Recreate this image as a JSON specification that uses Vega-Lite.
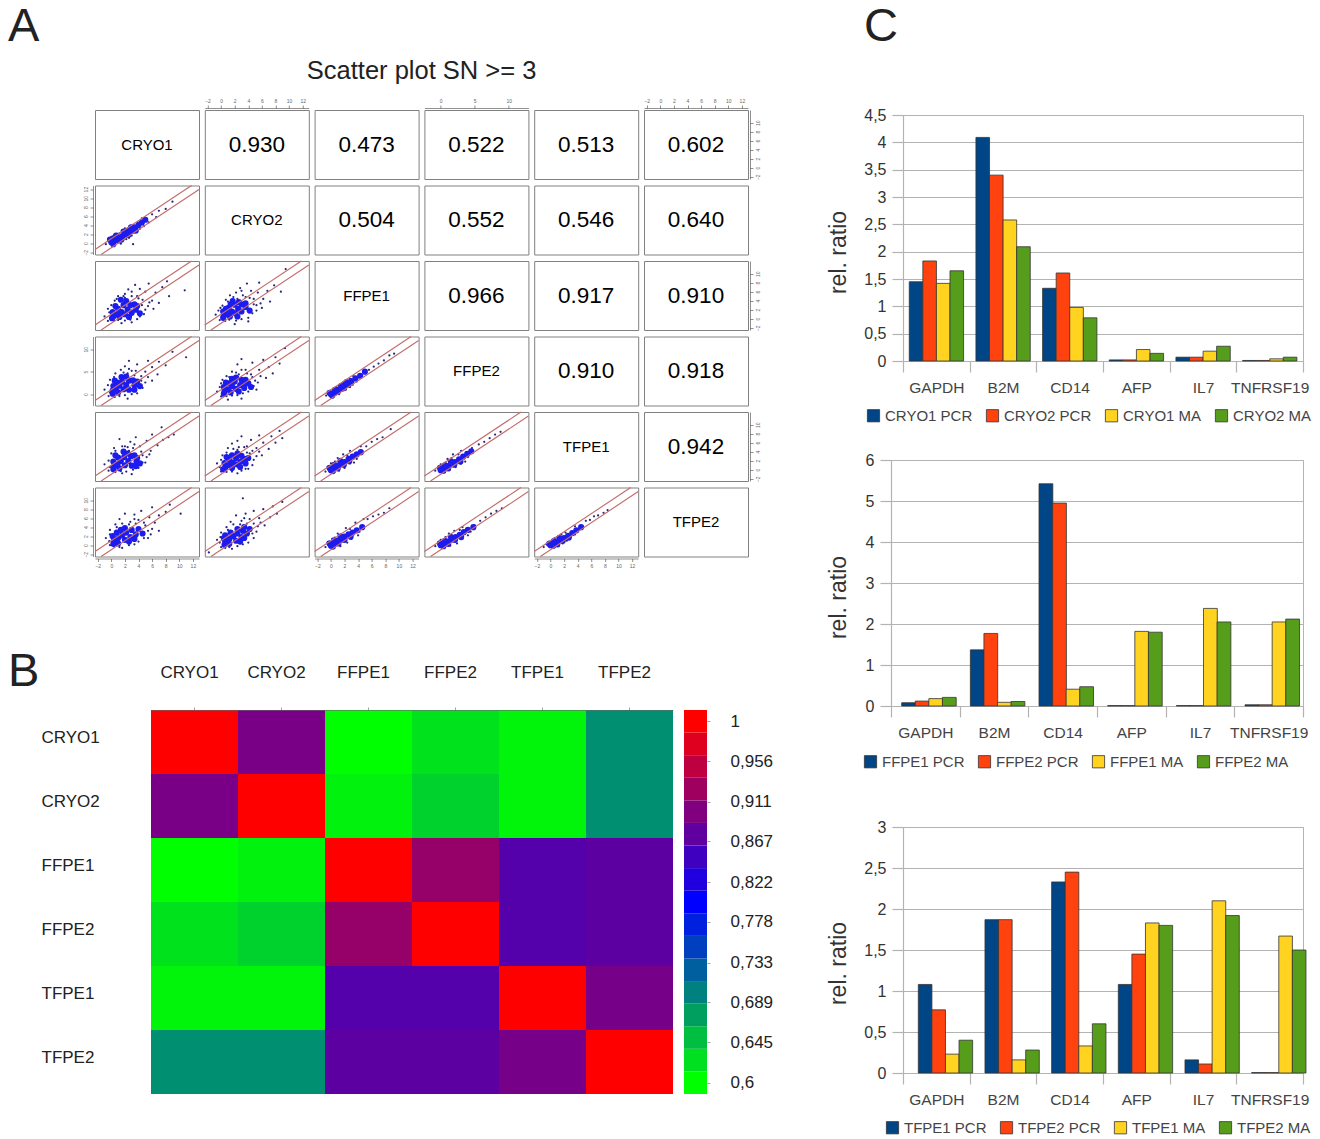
{"$schema":"https://vega.github.io/schema/vega-lite/v6.json","padding":{"left":7,"top":2,"right":5,"bottom":5},"spacing":53,"background":"white","resolve":{"legend":{"color":"independent"},"scale":{"color":"independent"}},
"config":{"font":"Liberation Sans","view":{"stroke":null},"axis":{"labelFontSize":5,"labelColor":"#666","tickSize":3,"tickColor":"#444","domainColor":"#444","tickWidth":0.6,"domainWidth":0.6,"labelPadding":2,"grid":false},"style":{"val":{"fontSize":22.5,"fill":"#111"},"nm":{"fontSize":15,"fill":"#333"}},"title":{"fontWeight":"normal","color":"#222"}},
"datasets":{
"cells":[{"p":"11","label":"CRYO1","x":5.25,"y":5.15},{"p":"12","label":"0.930","x":5.25,"y":5.15},{"p":"13","label":"0.473","x":5.25,"y":5.15},{"p":"14","label":"0.522","x":5.25,"y":5.15},{"p":"15","label":"0.513","x":5.25,"y":5.15},{"p":"16","label":"0.602","x":5.25,"y":5.15},{"p":"22","label":"CRYO2","x":5.25,"y":5.15},{"p":"23","label":"0.504","x":5.25,"y":5.15},{"p":"24","label":"0.552","x":5.25,"y":5.15},{"p":"25","label":"0.546","x":5.25,"y":5.15},{"p":"26","label":"0.640","x":5.25,"y":5.15},{"p":"33","label":"FFPE1","x":5.25,"y":5.15},{"p":"34","label":"0.966","x":5.25,"y":5.15},{"p":"35","label":"0.917","x":5.25,"y":5.15},{"p":"36","label":"0.910","x":5.25,"y":5.15},{"p":"44","label":"FFPE2","x":5.25,"y":5.15},{"p":"45","label":"0.910","x":5.25,"y":5.15},{"p":"46","label":"0.918","x":5.25,"y":5.15},{"p":"55","label":"TFPE1","x":5.25,"y":5.15},{"p":"56","label":"0.942","x":5.25,"y":5.15},{"p":"66","label":"TFPE2","x":5.25,"y":5.15}],
"bands":[{"x":-2.4,"y":-1.4,"x2":11.8,"y2":12.8},{"x":-1.5,"y":-2.5,"x2":12.9,"y2":11.9}],
"d21":[{"x":-0.8,"y":-0.2,"n":1},{"x":0.2,"y":1.5,"n":1},{"x":1.2,"y":2.2,"n":1},{"x":2,"y":3.3,"n":1},{"x":2.6,"y":1.2,"n":1},{"x":3.4,"y":2.4,"n":1},{"x":4.2,"y":3.2,"n":1},{"x":4.5,"y":5.5,"n":1},{"x":5.5,"y":4.6,"n":1},{"x":6,"y":6.4,"n":1},{"x":6.6,"y":5.8,"n":1},{"x":7,"y":7.2,"n":1},{"x":8,"y":7.6,"n":1},{"x":9,"y":9.2,"n":1},{"x":3.2,"y":-0.2,"n":1},{"x":-0.5,"y":0.5,"n":1},{"x":0,"y":1.4,"n":1},{"x":0.9,"y":2.1,"n":1},{"x":1.6,"y":2.8,"n":1},{"x":2.4,"y":3.3,"n":1},{"x":3.2,"y":4,"n":1},{"x":3.9,"y":4.6,"n":1},{"x":1.4,"y":-0.1,"n":1},{"x":2.2,"y":0.9,"n":1},{"x":3,"y":1.7,"n":1},{"x":3.8,"y":2.6,"n":1},{"x":4.8,"y":3.8,"n":1},{"x":0,"y":0.2,"n":2},{"x":0.5,"y":0.9,"n":2},{"x":1,"y":0.6,"n":2},{"x":1,"y":1.3,"n":2},{"x":1.6,"y":1.5,"n":2},{"x":2,"y":1.9,"n":2},{"x":2.4,"y":2.6,"n":2},{"x":3,"y":2.7,"n":2},{"x":3.4,"y":3.5,"n":2},{"x":4,"y":4,"n":2},{"x":5,"y":5.2,"n":2},{"x":0.3,"y":-0.2,"n":2},{"x":-0.2,"y":0.8,"n":2},{"x":1.5,"y":0.8,"n":2},{"x":0.7,"y":1.7,"n":2},{"x":2.5,"y":1.8,"n":2},{"x":1.8,"y":2.6,"n":2},{"x":3.6,"y":2.8,"n":2},{"x":2.9,"y":3.5,"n":2},{"x":4.5,"y":4.6,"n":2}],
"d31":[{"x":-1,"y":0.5,"n":1},{"x":-0.5,"y":-0.5,"n":1},{"x":0,"y":3,"n":1},{"x":0.5,"y":4,"n":1},{"x":1,"y":5,"n":1},{"x":2,"y":5.5,"n":1},{"x":2.5,"y":6.5,"n":1},{"x":3,"y":5,"n":1},{"x":3.5,"y":7.5,"n":1},{"x":4,"y":4.5,"n":1},{"x":4.5,"y":3,"n":1},{"x":5,"y":2,"n":1},{"x":5,"y":6,"n":1},{"x":6,"y":4,"n":1},{"x":5.5,"y":7.8,"n":1},{"x":6.5,"y":5.8,"n":1},{"x":7,"y":3.5,"n":1},{"x":7.5,"y":7,"n":1},{"x":8.2,"y":8.3,"n":1},{"x":8.5,"y":5,"n":1},{"x":10.8,"y":6.3,"n":1},{"x":3,"y":-0.8,"n":1},{"x":1.5,"y":-1,"n":1},{"x":4.2,"y":0.5,"n":1},{"x":-0.3,"y":1.4,"n":1},{"x":-0.5,"y":2.2,"n":1},{"x":0.4,"y":-0.4,"n":1},{"x":1,"y":-0.3,"n":1},{"x":2,"y":-0.4,"n":1},{"x":2.8,"y":-0.2,"n":1},{"x":3.8,"y":-0.1,"n":1},{"x":4.8,"y":1,"n":1},{"x":5.4,"y":2.8,"n":1},{"x":4.6,"y":4.2,"n":1},{"x":3.8,"y":5,"n":1},{"x":3,"y":6,"n":1},{"x":1.8,"y":5,"n":1},{"x":0.8,"y":4.4,"n":1},{"x":5.6,"y":3.6,"n":1},{"x":6.2,"y":2.2,"n":1},{"x":4.2,"y":6.6,"n":1},{"x":2,"y":4.6,"n":1},{"x":0.3,"y":0.5,"n":2},{"x":0.8,"y":1,"n":2},{"x":1.2,"y":0.4,"n":2},{"x":1.5,"y":1.5,"n":2},{"x":1,"y":2.2,"n":2},{"x":2,"y":1,"n":2},{"x":2.4,"y":2,"n":2},{"x":1.8,"y":3,"n":2},{"x":3,"y":1.3,"n":2},{"x":2.8,"y":3,"n":2},{"x":3.6,"y":2,"n":2},{"x":1.4,"y":4.2,"n":2},{"x":0.2,"y":1.5,"n":2},{"x":0.6,"y":2.8,"n":2},{"x":2.6,"y":0.4,"n":2},{"x":3.4,"y":3.2,"n":2},{"x":4.2,"y":1.2,"n":2},{"x":2.2,"y":3.9,"n":2},{"x":0.1,"y":0.1,"n":2},{"x":3.8,"y":2.8,"n":2}],
"d32":[{"x":-0.8,"y":0.9,"n":1},{"x":-0.2,"y":-0.3,"n":1},{"x":0.2,"y":2.9,"n":1},{"x":0.7,"y":4.2,"n":1},{"x":1.3,"y":5.2,"n":1},{"x":2.2,"y":5.8,"n":1},{"x":2.8,"y":6.8,"n":1},{"x":3.2,"y":5.2,"n":1},{"x":3.8,"y":7.8,"n":1},{"x":4.2,"y":4.6,"n":1},{"x":4.8,"y":3.2,"n":1},{"x":5.2,"y":1.8,"n":1},{"x":5.4,"y":5.8,"n":1},{"x":6.2,"y":4.4,"n":1},{"x":5.6,"y":8,"n":1},{"x":6.8,"y":6.2,"n":1},{"x":7.2,"y":3.8,"n":1},{"x":7.8,"y":7.4,"n":1},{"x":9.5,"y":11,"n":1},{"x":8.8,"y":6,"n":1},{"x":4,"y":-0.6,"n":1},{"x":2,"y":-1.2,"n":1},{"x":-0.4,"y":1.8,"n":1},{"x":-0.1,"y":2.4,"n":1},{"x":0.6,"y":-0.5,"n":1},{"x":1.2,"y":-0.2,"n":1},{"x":2.2,"y":-0.4,"n":1},{"x":3,"y":-0.1,"n":1},{"x":4,"y":0.2,"n":1},{"x":4.6,"y":1.2,"n":1},{"x":5.2,"y":3,"n":1},{"x":4.8,"y":4.4,"n":1},{"x":3.6,"y":4.8,"n":1},{"x":3,"y":6.2,"n":1},{"x":1.8,"y":4.8,"n":1},{"x":1,"y":3.8,"n":1},{"x":5.8,"y":3.4,"n":1},{"x":6,"y":2.4,"n":1},{"x":4.4,"y":6.2,"n":1},{"x":2.4,"y":4.4,"n":1},{"x":0.4,"y":0.6,"n":2},{"x":0.9,"y":1.1,"n":2},{"x":1.3,"y":0.5,"n":2},{"x":1.6,"y":1.6,"n":2},{"x":1.1,"y":2.4,"n":2},{"x":2.1,"y":1.2,"n":2},{"x":2.5,"y":2.2,"n":2},{"x":2,"y":3.1,"n":2},{"x":3,"y":1.6,"n":2},{"x":3,"y":3.2,"n":2},{"x":3.6,"y":2.6,"n":2},{"x":1.7,"y":3.9,"n":2},{"x":0.3,"y":1.6,"n":2},{"x":0.7,"y":2.2,"n":2},{"x":2.4,"y":0.5,"n":2},{"x":3.6,"y":3.4,"n":2},{"x":4.2,"y":1.8,"n":2},{"x":2.6,"y":3.7,"n":2},{"x":0.3,"y":0.2,"n":2},{"x":1.4,"y":3.2,"n":2}],
"d41":[{"x":-1,"y":1,"n":1},{"x":-0.4,"y":-0.4,"n":1},{"x":-0.2,"y":3.2,"n":1},{"x":0.6,"y":4.6,"n":1},{"x":1.4,"y":5.4,"n":1},{"x":2,"y":6.2,"n":1},{"x":2.6,"y":7.4,"n":1},{"x":3,"y":5.2,"n":1},{"x":3.4,"y":4.2,"n":1},{"x":3.8,"y":6.6,"n":1},{"x":4.4,"y":3,"n":1},{"x":4.6,"y":1.4,"n":1},{"x":5,"y":5,"n":1},{"x":5.4,"y":7.4,"n":1},{"x":6,"y":3,"n":1},{"x":6,"y":6,"n":1},{"x":6.8,"y":4.4,"n":1},{"x":7,"y":7.2,"n":1},{"x":8,"y":6.4,"n":1},{"x":9,"y":9.4,"n":1},{"x":11,"y":8.2,"n":1},{"x":2.4,"y":-1,"n":1},{"x":-0.5,"y":2,"n":1},{"x":-0.2,"y":0.4,"n":1},{"x":0.5,"y":-0.6,"n":1},{"x":1.2,"y":-0.4,"n":1},{"x":2,"y":-0.2,"n":1},{"x":3,"y":0,"n":1},{"x":3.8,"y":0.2,"n":1},{"x":4.4,"y":1.8,"n":1},{"x":5,"y":2.6,"n":1},{"x":4.4,"y":4,"n":1},{"x":3.6,"y":5.2,"n":1},{"x":2.6,"y":5.6,"n":1},{"x":1.8,"y":4.8,"n":1},{"x":0.4,"y":3.8,"n":1},{"x":5.4,"y":3.8,"n":1},{"x":2.4,"y":4.6,"n":1},{"x":0.2,"y":0.8,"n":2},{"x":0.7,"y":1.3,"n":2},{"x":1,"y":0.4,"n":2},{"x":1.2,"y":1.9,"n":2},{"x":0.9,"y":2.6,"n":2},{"x":1.8,"y":1.1,"n":2},{"x":1.6,"y":2.8,"n":2},{"x":2.2,"y":2,"n":2},{"x":2.6,"y":1,"n":2},{"x":2.6,"y":3,"n":2},{"x":3.4,"y":2,"n":2},{"x":1.5,"y":3.8,"n":2},{"x":0.3,"y":1.8,"n":2},{"x":0.5,"y":3,"n":2},{"x":3.4,"y":1,"n":2},{"x":3.2,"y":3.1,"n":2},{"x":4.2,"y":1.8,"n":2},{"x":2.2,"y":3.9,"n":2},{"x":0.2,"y":0.1,"n":2},{"x":3.8,"y":2.8,"n":2}],
"d42":[{"x":-0.6,"y":0.6,"n":1},{"x":0,"y":-0.5,"n":1},{"x":0,"y":2.4,"n":1},{"x":0.8,"y":4,"n":1},{"x":1.6,"y":5,"n":1},{"x":2.4,"y":6.6,"n":1},{"x":3,"y":7.8,"n":1},{"x":3.6,"y":5.4,"n":1},{"x":4.4,"y":4.4,"n":1},{"x":4.6,"y":7,"n":1},{"x":5,"y":3,"n":1},{"x":5.2,"y":1,"n":1},{"x":5.6,"y":5.4,"n":1},{"x":6.2,"y":7.6,"n":1},{"x":6.6,"y":3.6,"n":1},{"x":7,"y":6,"n":1},{"x":7.6,"y":4.6,"n":1},{"x":8,"y":8.2,"n":1},{"x":8.6,"y":6.8,"n":1},{"x":9.4,"y":10.2,"n":1},{"x":3,"y":-1,"n":1},{"x":1,"y":-1.2,"n":1},{"x":-0.2,"y":1.6,"n":1},{"x":0.2,"y":3.2,"n":1},{"x":0.8,"y":-0.4,"n":1},{"x":1.6,"y":-0.3,"n":1},{"x":2.4,"y":-0.2,"n":1},{"x":3.2,"y":0.2,"n":1},{"x":4,"y":0.6,"n":1},{"x":4.8,"y":1.8,"n":1},{"x":5.4,"y":2.6,"n":1},{"x":4.6,"y":3.8,"n":1},{"x":3.8,"y":4.6,"n":1},{"x":3,"y":5.4,"n":1},{"x":2.2,"y":4.8,"n":1},{"x":1.2,"y":3.8,"n":1},{"x":5.8,"y":4,"n":1},{"x":2.6,"y":4.4,"n":1},{"x":0.5,"y":0.6,"n":2},{"x":1,"y":1.1,"n":2},{"x":1.4,"y":0.4,"n":2},{"x":1.6,"y":1.8,"n":2},{"x":1.2,"y":2.4,"n":2},{"x":2.2,"y":1.2,"n":2},{"x":2,"y":2.8,"n":2},{"x":2.8,"y":2,"n":2},{"x":3.4,"y":1.4,"n":2},{"x":3,"y":3.2,"n":2},{"x":4,"y":2.4,"n":2},{"x":2.2,"y":3.7,"n":2},{"x":0.4,"y":1.6,"n":2},{"x":0.7,"y":2.6,"n":2},{"x":2.6,"y":0.6,"n":2},{"x":3.6,"y":3.2,"n":2},{"x":4.4,"y":1.6,"n":2},{"x":1.6,"y":3.4,"n":2},{"x":0.4,"y":0.1,"n":2},{"x":3.4,"y":2.6,"n":2}],
"d51":[{"x":-1,"y":1.2,"n":1},{"x":-0.4,"y":-0.2,"n":1},{"x":0,"y":3.6,"n":1},{"x":0.4,"y":4.8,"n":1},{"x":1.2,"y":6.8,"n":1},{"x":2,"y":5.2,"n":1},{"x":2.8,"y":6.2,"n":1},{"x":3.2,"y":4.8,"n":1},{"x":3.6,"y":7.2,"n":1},{"x":4.2,"y":5.2,"n":1},{"x":4.6,"y":3.2,"n":1},{"x":5,"y":1.6,"n":1},{"x":5.2,"y":6.4,"n":1},{"x":5.8,"y":4.2,"n":1},{"x":6,"y":7.8,"n":1},{"x":6.8,"y":5.4,"n":1},{"x":7.4,"y":9.4,"n":1},{"x":7.6,"y":6.6,"n":1},{"x":8.4,"y":7.2,"n":1},{"x":9.2,"y":7.8,"n":1},{"x":3,"y":-1,"n":1},{"x":1.6,"y":-0.8,"n":1},{"x":-0.4,"y":2,"n":1},{"x":-0.2,"y":0.6,"n":1},{"x":0.6,"y":-0.5,"n":1},{"x":1.4,"y":-0.3,"n":1},{"x":2.2,"y":-0.4,"n":1},{"x":3.2,"y":0,"n":1},{"x":4,"y":0.4,"n":1},{"x":4.6,"y":1.6,"n":1},{"x":5.2,"y":2.8,"n":1},{"x":4.4,"y":4,"n":1},{"x":3.4,"y":5.6,"n":1},{"x":2.4,"y":5,"n":1},{"x":1.6,"y":5.2,"n":1},{"x":0.6,"y":4.2,"n":1},{"x":5.6,"y":3.4,"n":1},{"x":2.6,"y":4.2,"n":1},{"x":0.4,"y":0.7,"n":2},{"x":0.9,"y":1.2,"n":2},{"x":1.2,"y":0.3,"n":2},{"x":1.4,"y":1.9,"n":2},{"x":1,"y":2.7,"n":2},{"x":2,"y":1,"n":2},{"x":1.9,"y":2.8,"n":2},{"x":2.5,"y":1.9,"n":2},{"x":3,"y":0.9,"n":2},{"x":2.9,"y":3,"n":2},{"x":3.7,"y":1.8,"n":2},{"x":1.8,"y":4,"n":2},{"x":0.3,"y":1.8,"n":2},{"x":0.6,"y":3.2,"n":2},{"x":3.6,"y":0.8,"n":2},{"x":3.4,"y":3.2,"n":2},{"x":4.2,"y":1.4,"n":2},{"x":2.4,"y":3.6,"n":2},{"x":0.3,"y":0.1,"n":2},{"x":3.8,"y":2.6,"n":2}],
"d52":[{"x":-0.6,"y":1.4,"n":1},{"x":0,"y":-0.4,"n":1},{"x":0.2,"y":3.2,"n":1},{"x":1,"y":4.8,"n":1},{"x":1.6,"y":5.8,"n":1},{"x":2.4,"y":6.4,"n":1},{"x":3,"y":7.4,"n":1},{"x":3.4,"y":5,"n":1},{"x":3.8,"y":3.8,"n":1},{"x":4.4,"y":6.6,"n":1},{"x":4.8,"y":2.2,"n":1},{"x":5.2,"y":4.8,"n":1},{"x":5.6,"y":7.6,"n":1},{"x":6,"y":3.2,"n":1},{"x":6.2,"y":6,"n":1},{"x":7,"y":4.6,"n":1},{"x":7.4,"y":7.4,"n":1},{"x":8,"y":6,"n":1},{"x":8.6,"y":8.6,"n":1},{"x":9,"y":7,"n":1},{"x":2.4,"y":-0.8,"n":1},{"x":4,"y":0.2,"n":1},{"x":-0.2,"y":0.6,"n":1},{"x":0,"y":2.2,"n":1},{"x":0.8,"y":-0.5,"n":1},{"x":1.6,"y":-0.4,"n":1},{"x":3,"y":-0.2,"n":1},{"x":3.6,"y":0.2,"n":1},{"x":4.6,"y":1,"n":1},{"x":5.2,"y":3,"n":1},{"x":4.6,"y":4.2,"n":1},{"x":3.8,"y":5.2,"n":1},{"x":2.6,"y":5,"n":1},{"x":1.8,"y":4.6,"n":1},{"x":0.8,"y":3.8,"n":1},{"x":5.6,"y":4,"n":1},{"x":2.4,"y":4.4,"n":1},{"x":4.2,"y":3.6,"n":1},{"x":0.6,"y":0.5,"n":2},{"x":1.1,"y":1,"n":2},{"x":1.6,"y":0.4,"n":2},{"x":1.7,"y":1.6,"n":2},{"x":1.2,"y":2.2,"n":2},{"x":2.3,"y":1.2,"n":2},{"x":2.2,"y":2.6,"n":2},{"x":2.9,"y":1.8,"n":2},{"x":3.4,"y":2.4,"n":2},{"x":3,"y":3.1,"n":2},{"x":4,"y":2.6,"n":2},{"x":2.4,"y":3.6,"n":2},{"x":0.5,"y":1.5,"n":2},{"x":0.8,"y":2.8,"n":2},{"x":2.8,"y":0.6,"n":2},{"x":3.6,"y":1.4,"n":2},{"x":1.6,"y":3.2,"n":2},{"x":0.3,"y":0.1,"n":2}],
"d61":[{"x":-0.8,"y":1.6,"n":1},{"x":-0.2,"y":0,"n":1},{"x":-0.2,"y":3.4,"n":1},{"x":0.6,"y":4.6,"n":1},{"x":1.2,"y":5.8,"n":1},{"x":2,"y":7,"n":1},{"x":2.8,"y":5.2,"n":1},{"x":3.4,"y":6.8,"n":1},{"x":4,"y":5.6,"n":1},{"x":4.4,"y":7.6,"n":1},{"x":5,"y":4.4,"n":1},{"x":5.4,"y":1.6,"n":1},{"x":5.6,"y":6.2,"n":1},{"x":6,"y":8.4,"n":1},{"x":6.4,"y":5,"n":1},{"x":7,"y":3.2,"n":1},{"x":7,"y":6.6,"n":1},{"x":8,"y":7.4,"n":1},{"x":8.6,"y":9,"n":1},{"x":10.2,"y":7,"n":1},{"x":1.6,"y":-0.6,"n":1},{"x":3.4,"y":0.2,"n":1},{"x":-0.3,"y":0.9,"n":1},{"x":-0.2,"y":2.4,"n":1},{"x":0.4,"y":-0.3,"n":1},{"x":1.2,"y":-0.4,"n":1},{"x":2.6,"y":0,"n":1},{"x":4,"y":0.8,"n":1},{"x":4.8,"y":1.6,"n":1},{"x":5.4,"y":3.2,"n":1},{"x":4.8,"y":5,"n":1},{"x":3.6,"y":4.8,"n":1},{"x":2.6,"y":4.6,"n":1},{"x":1.6,"y":4.8,"n":1},{"x":0.8,"y":4,"n":1},{"x":6,"y":3.6,"n":1},{"x":3.4,"y":5.8,"n":1},{"x":5.8,"y":2.4,"n":1},{"x":0.4,"y":1,"n":2},{"x":1,"y":1.6,"n":2},{"x":1,"y":0.4,"n":2},{"x":1.6,"y":2.2,"n":2},{"x":2,"y":1.2,"n":2},{"x":2.2,"y":2.8,"n":2},{"x":2.8,"y":1.8,"n":2},{"x":3,"y":3.4,"n":2},{"x":3.6,"y":2.4,"n":2},{"x":4,"y":3.6,"n":2},{"x":4.6,"y":2.6,"n":2},{"x":2,"y":3.8,"n":2},{"x":0.2,"y":2,"n":2},{"x":0.8,"y":2.8,"n":2},{"x":2.6,"y":0.8,"n":2},{"x":3.4,"y":1.4,"n":2},{"x":1.4,"y":3.4,"n":2},{"x":0.3,"y":0.3,"n":2}],
"d62":[{"x":-0.6,"y":1.2,"n":1},{"x":0,"y":-0.4,"n":1},{"x":0,"y":2.8,"n":1},{"x":0.8,"y":4,"n":1},{"x":1.4,"y":5.2,"n":1},{"x":2.2,"y":6.6,"n":1},{"x":3,"y":5.4,"n":1},{"x":3.6,"y":7,"n":1},{"x":4.2,"y":5.8,"n":1},{"x":4.8,"y":7.6,"n":1},{"x":5.2,"y":3,"n":1},{"x":5.6,"y":6,"n":1},{"x":6.2,"y":8,"n":1},{"x":6.4,"y":4.4,"n":1},{"x":7.2,"y":6.2,"n":1},{"x":7.6,"y":8.6,"n":1},{"x":8.2,"y":7,"n":1},{"x":9,"y":9.6,"n":1},{"x":3.2,"y":10.4,"n":1},{"x":-1.8,"y":-1.6,"n":1},{"x":1.6,"y":-0.8,"n":1},{"x":4,"y":0.6,"n":1},{"x":-0.2,"y":0.6,"n":1},{"x":-0.1,"y":1.8,"n":1},{"x":0.6,"y":-0.6,"n":1},{"x":1.2,"y":-0.4,"n":1},{"x":2.4,"y":-0.2,"n":1},{"x":3.2,"y":0.2,"n":1},{"x":4.8,"y":1.6,"n":1},{"x":5.4,"y":4.2,"n":1},{"x":4.8,"y":4.8,"n":1},{"x":3.8,"y":4.8,"n":1},{"x":2.8,"y":4.6,"n":1},{"x":1.8,"y":4.6,"n":1},{"x":1,"y":3.4,"n":1},{"x":5.8,"y":5,"n":1},{"x":3.4,"y":6,"n":1},{"x":4.6,"y":2.6,"n":1},{"x":0.6,"y":0.8,"n":2},{"x":1.2,"y":1.4,"n":2},{"x":1.2,"y":0.3,"n":2},{"x":1.8,"y":2,"n":2},{"x":2.2,"y":1,"n":2},{"x":2.4,"y":2.6,"n":2},{"x":3,"y":1.8,"n":2},{"x":3.2,"y":3.2,"n":2},{"x":3.8,"y":2.6,"n":2},{"x":4.2,"y":3.6,"n":2},{"x":1.4,"y":2.8,"n":2},{"x":2.4,"y":3.6,"n":2},{"x":0.4,"y":1.6,"n":2},{"x":0.6,"y":2.2,"n":2},{"x":2.8,"y":0.8,"n":2},{"x":3.4,"y":1.6,"n":2},{"x":3.4,"y":4,"n":2},{"x":0.5,"y":0.1,"n":2}],
"d43":[{"x":-0.7,"y":-0.3,"n":1},{"x":0.3,"y":1.1,"n":1},{"x":1.2,"y":2,"n":1},{"x":2.2,"y":1,"n":1},{"x":3.2,"y":2.1,"n":1},{"x":3.3,"y":4,"n":1},{"x":5.6,"y":5.4,"n":1},{"x":6.3,"y":6.1,"n":1},{"x":7,"y":6.8,"n":1},{"x":7.8,"y":7.5,"n":1},{"x":8.6,"y":8.6,"n":1},{"x":9.3,"y":9,"n":1},{"x":-0.4,"y":0.4,"n":1},{"x":0.8,"y":1.6,"n":1},{"x":1.8,"y":2.6,"n":1},{"x":2.8,"y":3.4,"n":1},{"x":1.2,"y":0,"n":1},{"x":2.8,"y":1.6,"n":1},{"x":3.8,"y":2.8,"n":1},{"x":0,"y":0,"n":2},{"x":0.6,"y":0.4,"n":2},{"x":1,"y":1,"n":2},{"x":1.5,"y":1.2,"n":2},{"x":2,"y":1.9,"n":2},{"x":2.5,"y":2.4,"n":2},{"x":3,"y":2.9,"n":2},{"x":3.6,"y":3.5,"n":2},{"x":4.3,"y":4.1,"n":2},{"x":5,"y":5,"n":2},{"x":0.2,"y":-0.3,"n":2},{"x":-0.2,"y":0.3,"n":2},{"x":1,"y":0.5,"n":2},{"x":0.6,"y":1,"n":2},{"x":1.8,"y":1.3,"n":2},{"x":1.5,"y":1.8,"n":2},{"x":2.6,"y":2.1,"n":2},{"x":2.3,"y":2.7,"n":2}],
"d53":[{"x":-0.8,"y":-0.4,"n":1},{"x":0,"y":1.4,"n":1},{"x":1,"y":2.6,"n":1},{"x":1.8,"y":3.4,"n":1},{"x":2,"y":0.4,"n":1},{"x":2.8,"y":4.2,"n":1},{"x":3.4,"y":1.6,"n":1},{"x":4.4,"y":5.2,"n":1},{"x":5.2,"y":5.2,"n":1},{"x":6,"y":6.2,"n":1},{"x":6.8,"y":6.8,"n":1},{"x":7.6,"y":7.2,"n":1},{"x":8.8,"y":9,"n":1},{"x":-0.5,"y":0.6,"n":1},{"x":0.6,"y":1.8,"n":1},{"x":1.4,"y":2.4,"n":1},{"x":2.4,"y":3.2,"n":1},{"x":1.2,"y":-0.2,"n":1},{"x":2.8,"y":1.4,"n":1},{"x":3.8,"y":2.4,"n":1},{"x":0,"y":-0.1,"n":2},{"x":0.6,"y":0.5,"n":2},{"x":1.1,"y":0.9,"n":2},{"x":1.5,"y":1.4,"n":2},{"x":2,"y":1.7,"n":2},{"x":2.6,"y":2.4,"n":2},{"x":3.2,"y":2.9,"n":2},{"x":3.8,"y":3.4,"n":2},{"x":4.4,"y":3.9,"n":2},{"x":0.3,"y":-0.3,"n":2},{"x":-0.2,"y":0.4,"n":2},{"x":1,"y":0.3,"n":2},{"x":0.5,"y":1.1,"n":2},{"x":1.9,"y":1.1,"n":2},{"x":1.4,"y":1.9,"n":2},{"x":2.7,"y":1.9,"n":2}],
"d54":[{"x":-0.8,"y":-0.2,"n":1},{"x":0,"y":1.2,"n":1},{"x":1,"y":2.4,"n":1},{"x":1.8,"y":3.4,"n":1},{"x":2.2,"y":0.6,"n":1},{"x":3,"y":4.2,"n":1},{"x":3.6,"y":1.8,"n":1},{"x":4.6,"y":4.8,"n":1},{"x":5.6,"y":5.6,"n":1},{"x":6.4,"y":6.2,"n":1},{"x":7.2,"y":7,"n":1},{"x":8,"y":7.8,"n":1},{"x":8.8,"y":8.4,"n":1},{"x":-0.4,"y":0.5,"n":1},{"x":0.7,"y":1.6,"n":1},{"x":1.6,"y":2.6,"n":1},{"x":2.6,"y":3.4,"n":1},{"x":1.3,"y":-0.1,"n":1},{"x":3,"y":1.4,"n":1},{"x":4,"y":2.8,"n":1},{"x":0,"y":-0.1,"n":2},{"x":0.5,"y":0.4,"n":2},{"x":1,"y":0.8,"n":2},{"x":1.5,"y":1.2,"n":2},{"x":2.1,"y":1.7,"n":2},{"x":2.7,"y":2.3,"n":2},{"x":3.3,"y":2.9,"n":2},{"x":3.9,"y":3.5,"n":2},{"x":4.5,"y":4.1,"n":2},{"x":0.4,"y":-0.2,"n":2},{"x":-0.1,"y":0.4,"n":2},{"x":1.1,"y":0.3,"n":2},{"x":0.6,"y":1,"n":2},{"x":2,"y":1.1,"n":2},{"x":1.5,"y":1.8,"n":2},{"x":2.9,"y":1.8,"n":2}],
"d63":[{"x":-0.8,"y":-0.4,"n":1},{"x":0.2,"y":1.4,"n":1},{"x":1,"y":2.6,"n":1},{"x":2.2,"y":3.8,"n":1},{"x":2.4,"y":0.6,"n":1},{"x":3.6,"y":5,"n":1},{"x":4,"y":2.2,"n":1},{"x":4.8,"y":5.8,"n":1},{"x":5.4,"y":5.8,"n":1},{"x":6.2,"y":6.4,"n":1},{"x":7,"y":6.8,"n":1},{"x":7.8,"y":7.2,"n":1},{"x":8.6,"y":8.2,"n":1},{"x":-0.5,"y":0.6,"n":1},{"x":0.6,"y":1.7,"n":1},{"x":1.5,"y":2.4,"n":1},{"x":2.8,"y":3.6,"n":1},{"x":1.4,"y":-0.2,"n":1},{"x":3,"y":1.4,"n":1},{"x":4.2,"y":3,"n":1},{"x":0,"y":-0.1,"n":2},{"x":0.6,"y":0.4,"n":2},{"x":1,"y":1,"n":2},{"x":1.6,"y":1.2,"n":2},{"x":2,"y":1.9,"n":2},{"x":2.6,"y":2.4,"n":2},{"x":3.2,"y":2.8,"n":2},{"x":3.8,"y":3.3,"n":2},{"x":4.6,"y":4,"n":2},{"x":0.3,"y":-0.3,"n":2},{"x":-0.2,"y":0.4,"n":2},{"x":1.1,"y":0.4,"n":2},{"x":0.5,"y":1.1,"n":2},{"x":2,"y":1.2,"n":2},{"x":1.4,"y":1.9,"n":2},{"x":2.9,"y":1.9,"n":2}],
"d64":[{"x":-0.8,"y":-0.2,"n":1},{"x":0,"y":1.2,"n":1},{"x":1.2,"y":2.6,"n":1},{"x":2,"y":3.2,"n":1},{"x":2.4,"y":0.4,"n":1},{"x":3.2,"y":4,"n":1},{"x":4,"y":2.2,"n":1},{"x":5,"y":4.4,"n":1},{"x":5.8,"y":5.4,"n":1},{"x":6.6,"y":6.2,"n":1},{"x":7.4,"y":7,"n":1},{"x":8.2,"y":7.6,"n":1},{"x":9,"y":8.2,"n":1},{"x":-0.4,"y":0.6,"n":1},{"x":0.7,"y":1.8,"n":1},{"x":1.6,"y":2.2,"n":1},{"x":2.8,"y":3.4,"n":1},{"x":1.4,"y":-0.1,"n":1},{"x":3.2,"y":1.4,"n":1},{"x":4.4,"y":3,"n":1},{"x":0,"y":0,"n":2},{"x":0.5,"y":0.3,"n":2},{"x":1,"y":0.8,"n":2},{"x":1.6,"y":1.2,"n":2},{"x":2.2,"y":1.8,"n":2},{"x":2.8,"y":2.3,"n":2},{"x":3.4,"y":2.9,"n":2},{"x":4,"y":3.4,"n":2},{"x":4.8,"y":4,"n":2},{"x":0.4,"y":-0.2,"n":2},{"x":-0.1,"y":0.4,"n":2},{"x":1.1,"y":0.3,"n":2},{"x":0.6,"y":1,"n":2},{"x":2.1,"y":1.2,"n":2},{"x":1.5,"y":1.8,"n":2},{"x":3,"y":1.8,"n":2}],
"d65":[{"x":-1,"y":-0.4,"n":1},{"x":-0.2,"y":0.8,"n":1},{"x":0.6,"y":1.6,"n":1},{"x":1.6,"y":2.4,"n":1},{"x":1.8,"y":0.4,"n":1},{"x":2.8,"y":1.6,"n":1},{"x":3.6,"y":4.2,"n":1},{"x":5.2,"y":5.4,"n":1},{"x":5.8,"y":5.6,"n":1},{"x":6.4,"y":6.4,"n":1},{"x":7,"y":6.6,"n":1},{"x":7.8,"y":7.2,"n":1},{"x":8.4,"y":7.8,"n":1},{"x":-0.6,"y":0.2,"n":1},{"x":0.3,"y":1.2,"n":1},{"x":1.2,"y":2,"n":1},{"x":2.2,"y":2.8,"n":1},{"x":1.2,"y":-0.2,"n":1},{"x":2.4,"y":1,"n":1},{"x":3.6,"y":2.4,"n":1},{"x":0,"y":0,"n":2},{"x":0.5,"y":0.4,"n":2},{"x":1,"y":0.7,"n":2},{"x":1.5,"y":1.1,"n":2},{"x":2,"y":1.6,"n":2},{"x":2.6,"y":2.1,"n":2},{"x":3.2,"y":2.7,"n":2},{"x":3.8,"y":3.3,"n":2},{"x":4.5,"y":4,"n":2},{"x":0.4,"y":-0.1,"n":2},{"x":-0.2,"y":0.3,"n":2},{"x":1,"y":0.2,"n":2},{"x":0.5,"y":0.9,"n":2},{"x":1.8,"y":1,"n":2},{"x":1.3,"y":1.6,"n":2},{"x":2.7,"y":1.7,"n":2}],
"heat":[{"r":"CRYO1","c":"CRYO1","v":1},{"r":"CRYO1","c":"CRYO2","v":0.895},{"r":"CRYO1","c":"FFPE1","v":0.6},{"r":"CRYO1","c":"FFPE2","v":0.622},{"r":"CRYO1","c":"TFPE1","v":0.608},{"r":"CRYO1","c":"TFPE2","v":0.688},{"r":"CRYO2","c":"CRYO1","v":0.895},{"r":"CRYO2","c":"CRYO2","v":1},{"r":"CRYO2","c":"FFPE1","v":0.61},{"r":"CRYO2","c":"FFPE2","v":0.635},{"r":"CRYO2","c":"TFPE1","v":0.608},{"r":"CRYO2","c":"TFPE2","v":0.688},{"r":"FFPE1","c":"CRYO1","v":0.6},{"r":"FFPE1","c":"CRYO2","v":0.61},{"r":"FFPE1","c":"FFPE1","v":1},{"r":"FFPE1","c":"FFPE2","v":0.918},{"r":"FFPE1","c":"TFPE1","v":0.866},{"r":"FFPE1","c":"TFPE2","v":0.873},{"r":"FFPE2","c":"CRYO1","v":0.622},{"r":"FFPE2","c":"CRYO2","v":0.635},{"r":"FFPE2","c":"FFPE1","v":0.918},{"r":"FFPE2","c":"FFPE2","v":1},{"r":"FFPE2","c":"TFPE1","v":0.866},{"r":"FFPE2","c":"TFPE2","v":0.873},{"r":"TFPE1","c":"CRYO1","v":0.608},{"r":"TFPE1","c":"CRYO2","v":0.608},{"r":"TFPE1","c":"FFPE1","v":0.866},{"r":"TFPE1","c":"FFPE2","v":0.866},{"r":"TFPE1","c":"TFPE1","v":1},{"r":"TFPE1","c":"TFPE2","v":0.893},{"r":"TFPE2","c":"CRYO1","v":0.688},{"r":"TFPE2","c":"CRYO2","v":0.688},{"r":"TFPE2","c":"FFPE1","v":0.873},{"r":"TFPE2","c":"FFPE2","v":0.873},{"r":"TFPE2","c":"TFPE1","v":0.893},{"r":"TFPE2","c":"TFPE2","v":1}],
"scale":[{"v":0.6,"lo":0.5875,"hi":0.6125},{"v":0.625,"lo":0.6125,"hi":0.6375},{"v":0.65,"lo":0.6375,"hi":0.6625},{"v":0.675,"lo":0.6625,"hi":0.6875},{"v":0.7,"lo":0.6875,"hi":0.7125},{"v":0.725,"lo":0.7125,"hi":0.7375},{"v":0.75,"lo":0.7375,"hi":0.7625},{"v":0.775,"lo":0.7625,"hi":0.7875},{"v":0.8,"lo":0.7875,"hi":0.8125},{"v":0.825,"lo":0.8125,"hi":0.8375},{"v":0.85,"lo":0.8375,"hi":0.8625},{"v":0.875,"lo":0.8625,"hi":0.8875},{"v":0.9,"lo":0.8875,"hi":0.9125},{"v":0.925,"lo":0.9125,"hi":0.9375},{"v":0.95,"lo":0.9375,"hi":0.9625},{"v":0.975,"lo":0.9625,"hi":0.9875},{"v":1,"lo":0.9875,"hi":1.0125}],
"b1":[{"g":"GAPDH","s":"CRYO1 PCR","v":1.45},{"g":"GAPDH","s":"CRYO2 PCR","v":1.83},{"g":"GAPDH","s":"CRYO1 MA","v":1.42},{"g":"GAPDH","s":"CRYO2 MA","v":1.65},{"g":"B2M","s":"CRYO1 PCR","v":4.09},{"g":"B2M","s":"CRYO2 PCR","v":3.4},{"g":"B2M","s":"CRYO1 MA","v":2.58},{"g":"B2M","s":"CRYO2 MA","v":2.09},{"g":"CD14","s":"CRYO1 PCR","v":1.33},{"g":"CD14","s":"CRYO2 PCR","v":1.61},{"g":"CD14","s":"CRYO1 MA","v":0.98},{"g":"CD14","s":"CRYO2 MA","v":0.79},{"g":"AFP","s":"CRYO1 PCR","v":0.02},{"g":"AFP","s":"CRYO2 PCR","v":0.02},{"g":"AFP","s":"CRYO1 MA","v":0.21},{"g":"AFP","s":"CRYO2 MA","v":0.14},{"g":"IL7","s":"CRYO1 PCR","v":0.07},{"g":"IL7","s":"CRYO2 PCR","v":0.07},{"g":"IL7","s":"CRYO1 MA","v":0.18},{"g":"IL7","s":"CRYO2 MA","v":0.27},{"g":"TNFRSF19","s":"CRYO1 PCR","v":0.01},{"g":"TNFRSF19","s":"CRYO2 PCR","v":0.01},{"g":"TNFRSF19","s":"CRYO1 MA","v":0.04},{"g":"TNFRSF19","s":"CRYO2 MA","v":0.07}],
"b2":[{"g":"GAPDH","s":"FFPE1 PCR","v":0.08},{"g":"GAPDH","s":"FFPE2 PCR","v":0.12},{"g":"GAPDH","s":"FFPE1 MA","v":0.18},{"g":"GAPDH","s":"FFPE2 MA","v":0.21},{"g":"B2M","s":"FFPE1 PCR","v":1.37},{"g":"B2M","s":"FFPE2 PCR","v":1.77},{"g":"B2M","s":"FFPE1 MA","v":0.09},{"g":"B2M","s":"FFPE2 MA","v":0.11},{"g":"CD14","s":"FFPE1 PCR","v":5.42},{"g":"CD14","s":"FFPE2 PCR","v":4.95},{"g":"CD14","s":"FFPE1 MA","v":0.41},{"g":"CD14","s":"FFPE2 MA","v":0.47},{"g":"AFP","s":"FFPE1 PCR","v":0.01},{"g":"AFP","s":"FFPE2 PCR","v":0.01},{"g":"AFP","s":"FFPE1 MA","v":1.82},{"g":"AFP","s":"FFPE2 MA","v":1.8},{"g":"IL7","s":"FFPE1 PCR","v":0.01},{"g":"IL7","s":"FFPE2 PCR","v":0.01},{"g":"IL7","s":"FFPE1 MA","v":2.38},{"g":"IL7","s":"FFPE2 MA","v":2.05},{"g":"TNFRSF19","s":"FFPE1 PCR","v":0.03},{"g":"TNFRSF19","s":"FFPE2 PCR","v":0.03},{"g":"TNFRSF19","s":"FFPE1 MA","v":2.05},{"g":"TNFRSF19","s":"FFPE2 MA","v":2.12}],
"b3":[{"g":"GAPDH","s":"TFPE1 PCR","v":1.08},{"g":"GAPDH","s":"TFPE2 PCR","v":0.77},{"g":"GAPDH","s":"TFPE1 MA","v":0.23},{"g":"GAPDH","s":"TFPE2 MA","v":0.4},{"g":"B2M","s":"TFPE1 PCR","v":1.87},{"g":"B2M","s":"TFPE2 PCR","v":1.87},{"g":"B2M","s":"TFPE1 MA","v":0.16},{"g":"B2M","s":"TFPE2 MA","v":0.28},{"g":"CD14","s":"TFPE1 PCR","v":2.33},{"g":"CD14","s":"TFPE2 PCR","v":2.45},{"g":"CD14","s":"TFPE1 MA","v":0.33},{"g":"CD14","s":"TFPE2 MA","v":0.6},{"g":"AFP","s":"TFPE1 PCR","v":1.08},{"g":"AFP","s":"TFPE2 PCR","v":1.45},{"g":"AFP","s":"TFPE1 MA","v":1.83},{"g":"AFP","s":"TFPE2 MA","v":1.8},{"g":"IL7","s":"TFPE1 PCR","v":0.16},{"g":"IL7","s":"TFPE2 PCR","v":0.11},{"g":"IL7","s":"TFPE1 MA","v":2.1},{"g":"IL7","s":"TFPE2 MA","v":1.92},{"g":"TNFRSF19","s":"TFPE1 PCR","v":0.005},{"g":"TNFRSF19","s":"TFPE2 PCR","v":0.005},{"g":"TNFRSF19","s":"TFPE1 MA","v":1.67},{"g":"TNFRSF19","s":"TFPE2 MA","v":1.5}]
},
"hconcat":[
{"spacing":79,"vconcat":[
{"bounds":"flush","columns":6,"spacing":{"row":6.5,"column":5.8},"concat":[
{"title":{"text":"A","fontSize":47,"anchor":"start","frame":"group","dx":-87,"offset":59},"width":104,"height":69,"view":{"stroke":"#808080"},"data":{"name":"cells"},"transform":[{"filter":"datum.p=='11'"}],"mark":{"type":"text","style":"nm"},"encoding":{"text":{"field":"label"}}},
{"width":104,"height":69,"view":{"stroke":"#808080"},"data":{"name":"cells"},"transform":[{"filter":"datum.p=='12'"}],"mark":{"type":"text","style":"val"},"encoding":{"text":{"field":"label"},"x":{"field":"x","type":"quantitative","scale":{"domain":[-2.4,12.9]},"axis":{"orient":"top","title":null,"offset":2,"values":[-2,0,2,4,6,8,10,12]}}}},
{"title":{"text":"Scatter plot SN >= 3","fontSize":25.5,"anchor":"middle","frame":"group","dx":55,"offset":26},"width":104,"height":69,"view":{"stroke":"#808080"},"data":{"name":"cells"},"transform":[{"filter":"datum.p=='13'"}],"mark":{"type":"text","style":"val"},"encoding":{"text":{"field":"label"}}},
{"width":104,"height":69,"view":{"stroke":"#808080"},"data":{"name":"cells"},"transform":[{"filter":"datum.p=='14'"}],"mark":{"type":"text","style":"val"},"encoding":{"text":{"field":"label"},"x":{"field":"x","type":"quantitative","scale":{"domain":[-2.4,12.9]},"axis":{"orient":"top","title":null,"offset":2,"values":[0,5,10]}}}},
{"width":104,"height":69,"view":{"stroke":"#808080"},"data":{"name":"cells"},"transform":[{"filter":"datum.p=='15'"}],"mark":{"type":"text","style":"val"},"encoding":{"text":{"field":"label"}}},
{"width":104,"height":69,"view":{"stroke":"#808080"},"data":{"name":"cells"},"transform":[{"filter":"datum.p=='16'"}],"mark":{"type":"text","style":"val"},"encoding":{"text":{"field":"label"},"x":{"field":"x","type":"quantitative","scale":{"domain":[-2.4,12.9]},"axis":{"orient":"top","title":null,"offset":2,"values":[-2,0,2,4,6,8,10,12]}},"y":{"field":"y","type":"quantitative","scale":{"domain":[-2.5,12.8]},"axis":{"orient":"right","title":null,"offset":2,"labelAngle":-90,"values":[-2,0,2,4,6,8,10]}}}},

{"width":104,"height":69,"view":{"stroke":"#808080"},"encoding":{"x":{"field":"x","type":"quantitative","scale":{"domain":[-2.4,12.9]},"axis":null},"y":{"field":"y","type":"quantitative","scale":{"domain":[-2.5,12.8]},"axis":{"orient":"left","title":null,"offset":2,"labelAngle":-90,"values":[-2,0,2,4,6,8,10,12]}}},"layer":[{"data":{"name":"d21"},"mark":{"type":"circle","opacity":1},"encoding":{"size":{"field":"n","type":"ordinal","scale":{"domain":[1,2],"range":[5,38]},"legend":null},"color":{"field":"n","type":"ordinal","scale":{"domain":[1,2],"range":["#28287a","#1c1cf0"]},"legend":null}}},{"data":{"name":"bands"},"mark":{"type":"rule","color":"#c56a6a","strokeWidth":1.1},"encoding":{"x2":{"field":"x2"},"y2":{"field":"y2"}}}]},
{"width":104,"height":69,"view":{"stroke":"#808080"},"data":{"name":"cells"},"transform":[{"filter":"datum.p=='22'"}],"mark":{"type":"text","style":"nm"},"encoding":{"text":{"field":"label"}}},
{"width":104,"height":69,"view":{"stroke":"#808080"},"data":{"name":"cells"},"transform":[{"filter":"datum.p=='23'"}],"mark":{"type":"text","style":"val"},"encoding":{"text":{"field":"label"}}},
{"width":104,"height":69,"view":{"stroke":"#808080"},"data":{"name":"cells"},"transform":[{"filter":"datum.p=='24'"}],"mark":{"type":"text","style":"val"},"encoding":{"text":{"field":"label"}}},
{"width":104,"height":69,"view":{"stroke":"#808080"},"data":{"name":"cells"},"transform":[{"filter":"datum.p=='25'"}],"mark":{"type":"text","style":"val"},"encoding":{"text":{"field":"label"}}},
{"width":104,"height":69,"view":{"stroke":"#808080"},"data":{"name":"cells"},"transform":[{"filter":"datum.p=='26'"}],"mark":{"type":"text","style":"val"},"encoding":{"text":{"field":"label"}}},

{"width":104,"height":69,"view":{"stroke":"#808080"},"encoding":{"x":{"field":"x","type":"quantitative","scale":{"domain":[-2.4,12.9]},"axis":null},"y":{"field":"y","type":"quantitative","scale":{"domain":[-2.5,12.8]},"axis":null}},"layer":[{"data":{"name":"d31"},"mark":{"type":"circle","opacity":1},"encoding":{"size":{"field":"n","type":"ordinal","scale":{"domain":[1,2],"range":[5,38]},"legend":null},"color":{"field":"n","type":"ordinal","scale":{"domain":[1,2],"range":["#28287a","#1c1cf0"]},"legend":null}}},{"data":{"name":"bands"},"mark":{"type":"rule","color":"#c56a6a","strokeWidth":1.1},"encoding":{"x2":{"field":"x2"},"y2":{"field":"y2"}}}]},
{"width":104,"height":69,"view":{"stroke":"#808080"},"encoding":{"x":{"field":"x","type":"quantitative","scale":{"domain":[-2.4,12.9]},"axis":null},"y":{"field":"y","type":"quantitative","scale":{"domain":[-2.5,12.8]},"axis":null}},"layer":[{"data":{"name":"d32"},"mark":{"type":"circle","opacity":1},"encoding":{"size":{"field":"n","type":"ordinal","scale":{"domain":[1,2],"range":[5,38]},"legend":null},"color":{"field":"n","type":"ordinal","scale":{"domain":[1,2],"range":["#28287a","#1c1cf0"]},"legend":null}}},{"data":{"name":"bands"},"mark":{"type":"rule","color":"#c56a6a","strokeWidth":1.1},"encoding":{"x2":{"field":"x2"},"y2":{"field":"y2"}}}]},
{"width":104,"height":69,"view":{"stroke":"#808080"},"data":{"name":"cells"},"transform":[{"filter":"datum.p=='33'"}],"mark":{"type":"text","style":"nm"},"encoding":{"text":{"field":"label"}}},
{"width":104,"height":69,"view":{"stroke":"#808080"},"data":{"name":"cells"},"transform":[{"filter":"datum.p=='34'"}],"mark":{"type":"text","style":"val"},"encoding":{"text":{"field":"label"}}},
{"width":104,"height":69,"view":{"stroke":"#808080"},"data":{"name":"cells"},"transform":[{"filter":"datum.p=='35'"}],"mark":{"type":"text","style":"val"},"encoding":{"text":{"field":"label"}}},
{"width":104,"height":69,"view":{"stroke":"#808080"},"data":{"name":"cells"},"transform":[{"filter":"datum.p=='36'"}],"mark":{"type":"text","style":"val"},"encoding":{"text":{"field":"label"},"y":{"field":"y","type":"quantitative","scale":{"domain":[-2.5,12.8]},"axis":{"orient":"right","title":null,"offset":2,"labelAngle":-90,"values":[-2,0,2,4,6,8,10]}}}},

{"width":104,"height":69,"view":{"stroke":"#808080"},"encoding":{"x":{"field":"x","type":"quantitative","scale":{"domain":[-2.4,12.9]},"axis":null},"y":{"field":"y","type":"quantitative","scale":{"domain":[-2.5,12.8]},"axis":{"orient":"left","title":null,"offset":2,"labelAngle":-90,"values":[0,5,10]}}},"layer":[{"data":{"name":"d41"},"mark":{"type":"circle","opacity":1},"encoding":{"size":{"field":"n","type":"ordinal","scale":{"domain":[1,2],"range":[5,38]},"legend":null},"color":{"field":"n","type":"ordinal","scale":{"domain":[1,2],"range":["#28287a","#1c1cf0"]},"legend":null}}},{"data":{"name":"bands"},"mark":{"type":"rule","color":"#c56a6a","strokeWidth":1.1},"encoding":{"x2":{"field":"x2"},"y2":{"field":"y2"}}}]},
{"width":104,"height":69,"view":{"stroke":"#808080"},"encoding":{"x":{"field":"x","type":"quantitative","scale":{"domain":[-2.4,12.9]},"axis":null},"y":{"field":"y","type":"quantitative","scale":{"domain":[-2.5,12.8]},"axis":null}},"layer":[{"data":{"name":"d42"},"mark":{"type":"circle","opacity":1},"encoding":{"size":{"field":"n","type":"ordinal","scale":{"domain":[1,2],"range":[5,38]},"legend":null},"color":{"field":"n","type":"ordinal","scale":{"domain":[1,2],"range":["#28287a","#1c1cf0"]},"legend":null}}},{"data":{"name":"bands"},"mark":{"type":"rule","color":"#c56a6a","strokeWidth":1.1},"encoding":{"x2":{"field":"x2"},"y2":{"field":"y2"}}}]},
{"width":104,"height":69,"view":{"stroke":"#808080"},"encoding":{"x":{"field":"x","type":"quantitative","scale":{"domain":[-2.4,12.9]},"axis":null},"y":{"field":"y","type":"quantitative","scale":{"domain":[-2.5,12.8]},"axis":null}},"layer":[{"data":{"name":"d43"},"mark":{"type":"circle","opacity":1},"encoding":{"size":{"field":"n","type":"ordinal","scale":{"domain":[1,2],"range":[5,38]},"legend":null},"color":{"field":"n","type":"ordinal","scale":{"domain":[1,2],"range":["#28287a","#1c1cf0"]},"legend":null}}},{"data":{"name":"bands"},"mark":{"type":"rule","color":"#c56a6a","strokeWidth":1.1},"encoding":{"x2":{"field":"x2"},"y2":{"field":"y2"}}}]},
{"width":104,"height":69,"view":{"stroke":"#808080"},"data":{"name":"cells"},"transform":[{"filter":"datum.p=='44'"}],"mark":{"type":"text","style":"nm"},"encoding":{"text":{"field":"label"}}},
{"width":104,"height":69,"view":{"stroke":"#808080"},"data":{"name":"cells"},"transform":[{"filter":"datum.p=='45'"}],"mark":{"type":"text","style":"val"},"encoding":{"text":{"field":"label"}}},
{"width":104,"height":69,"view":{"stroke":"#808080"},"data":{"name":"cells"},"transform":[{"filter":"datum.p=='46'"}],"mark":{"type":"text","style":"val"},"encoding":{"text":{"field":"label"}}},

{"width":104,"height":69,"view":{"stroke":"#808080"},"encoding":{"x":{"field":"x","type":"quantitative","scale":{"domain":[-2.4,12.9]},"axis":null},"y":{"field":"y","type":"quantitative","scale":{"domain":[-2.5,12.8]},"axis":null}},"layer":[{"data":{"name":"d51"},"mark":{"type":"circle","opacity":1},"encoding":{"size":{"field":"n","type":"ordinal","scale":{"domain":[1,2],"range":[5,38]},"legend":null},"color":{"field":"n","type":"ordinal","scale":{"domain":[1,2],"range":["#28287a","#1c1cf0"]},"legend":null}}},{"data":{"name":"bands"},"mark":{"type":"rule","color":"#c56a6a","strokeWidth":1.1},"encoding":{"x2":{"field":"x2"},"y2":{"field":"y2"}}}]},
{"width":104,"height":69,"view":{"stroke":"#808080"},"encoding":{"x":{"field":"x","type":"quantitative","scale":{"domain":[-2.4,12.9]},"axis":null},"y":{"field":"y","type":"quantitative","scale":{"domain":[-2.5,12.8]},"axis":null}},"layer":[{"data":{"name":"d52"},"mark":{"type":"circle","opacity":1},"encoding":{"size":{"field":"n","type":"ordinal","scale":{"domain":[1,2],"range":[5,38]},"legend":null},"color":{"field":"n","type":"ordinal","scale":{"domain":[1,2],"range":["#28287a","#1c1cf0"]},"legend":null}}},{"data":{"name":"bands"},"mark":{"type":"rule","color":"#c56a6a","strokeWidth":1.1},"encoding":{"x2":{"field":"x2"},"y2":{"field":"y2"}}}]},
{"width":104,"height":69,"view":{"stroke":"#808080"},"encoding":{"x":{"field":"x","type":"quantitative","scale":{"domain":[-2.4,12.9]},"axis":null},"y":{"field":"y","type":"quantitative","scale":{"domain":[-2.5,12.8]},"axis":null}},"layer":[{"data":{"name":"d53"},"mark":{"type":"circle","opacity":1},"encoding":{"size":{"field":"n","type":"ordinal","scale":{"domain":[1,2],"range":[5,38]},"legend":null},"color":{"field":"n","type":"ordinal","scale":{"domain":[1,2],"range":["#28287a","#1c1cf0"]},"legend":null}}},{"data":{"name":"bands"},"mark":{"type":"rule","color":"#c56a6a","strokeWidth":1.1},"encoding":{"x2":{"field":"x2"},"y2":{"field":"y2"}}}]},
{"width":104,"height":69,"view":{"stroke":"#808080"},"encoding":{"x":{"field":"x","type":"quantitative","scale":{"domain":[-2.4,12.9]},"axis":null},"y":{"field":"y","type":"quantitative","scale":{"domain":[-2.5,12.8]},"axis":null}},"layer":[{"data":{"name":"d54"},"mark":{"type":"circle","opacity":1},"encoding":{"size":{"field":"n","type":"ordinal","scale":{"domain":[1,2],"range":[5,38]},"legend":null},"color":{"field":"n","type":"ordinal","scale":{"domain":[1,2],"range":["#28287a","#1c1cf0"]},"legend":null}}},{"data":{"name":"bands"},"mark":{"type":"rule","color":"#c56a6a","strokeWidth":1.1},"encoding":{"x2":{"field":"x2"},"y2":{"field":"y2"}}}]},
{"width":104,"height":69,"view":{"stroke":"#808080"},"data":{"name":"cells"},"transform":[{"filter":"datum.p=='55'"}],"mark":{"type":"text","style":"nm"},"encoding":{"text":{"field":"label"}}},
{"width":104,"height":69,"view":{"stroke":"#808080"},"data":{"name":"cells"},"transform":[{"filter":"datum.p=='56'"}],"mark":{"type":"text","style":"val"},"encoding":{"text":{"field":"label"},"y":{"field":"y","type":"quantitative","scale":{"domain":[-2.5,12.8]},"axis":{"orient":"right","title":null,"offset":2,"labelAngle":-90,"values":[-2,0,2,4,6,8,10]}}}},

{"width":104,"height":69,"view":{"stroke":"#808080"},"encoding":{"x":{"field":"x","type":"quantitative","scale":{"domain":[-2.4,12.9]},"axis":{"orient":"bottom","title":null,"offset":2,"values":[-2,0,2,4,6,8,10,12]}},"y":{"field":"y","type":"quantitative","scale":{"domain":[-2.5,12.8]},"axis":{"orient":"left","title":null,"offset":2,"labelAngle":-90,"values":[-2,0,2,4,6,8,10]}}},"layer":[{"data":{"name":"d61"},"mark":{"type":"circle","opacity":1},"encoding":{"size":{"field":"n","type":"ordinal","scale":{"domain":[1,2],"range":[5,38]},"legend":null},"color":{"field":"n","type":"ordinal","scale":{"domain":[1,2],"range":["#28287a","#1c1cf0"]},"legend":null}}},{"data":{"name":"bands"},"mark":{"type":"rule","color":"#c56a6a","strokeWidth":1.1},"encoding":{"x2":{"field":"x2"},"y2":{"field":"y2"}}}]},
{"width":104,"height":69,"view":{"stroke":"#808080"},"encoding":{"x":{"field":"x","type":"quantitative","scale":{"domain":[-2.4,12.9]},"axis":null},"y":{"field":"y","type":"quantitative","scale":{"domain":[-2.5,12.8]},"axis":null}},"layer":[{"data":{"name":"d62"},"mark":{"type":"circle","opacity":1},"encoding":{"size":{"field":"n","type":"ordinal","scale":{"domain":[1,2],"range":[5,38]},"legend":null},"color":{"field":"n","type":"ordinal","scale":{"domain":[1,2],"range":["#28287a","#1c1cf0"]},"legend":null}}},{"data":{"name":"bands"},"mark":{"type":"rule","color":"#c56a6a","strokeWidth":1.1},"encoding":{"x2":{"field":"x2"},"y2":{"field":"y2"}}}]},
{"width":104,"height":69,"view":{"stroke":"#808080"},"encoding":{"x":{"field":"x","type":"quantitative","scale":{"domain":[-2.4,12.9]},"axis":{"orient":"bottom","title":null,"offset":2,"values":[-2,0,2,4,6,8,10,12]}},"y":{"field":"y","type":"quantitative","scale":{"domain":[-2.5,12.8]},"axis":null}},"layer":[{"data":{"name":"d63"},"mark":{"type":"circle","opacity":1},"encoding":{"size":{"field":"n","type":"ordinal","scale":{"domain":[1,2],"range":[5,38]},"legend":null},"color":{"field":"n","type":"ordinal","scale":{"domain":[1,2],"range":["#28287a","#1c1cf0"]},"legend":null}}},{"data":{"name":"bands"},"mark":{"type":"rule","color":"#c56a6a","strokeWidth":1.1},"encoding":{"x2":{"field":"x2"},"y2":{"field":"y2"}}}]},
{"width":104,"height":69,"view":{"stroke":"#808080"},"encoding":{"x":{"field":"x","type":"quantitative","scale":{"domain":[-2.4,12.9]},"axis":null},"y":{"field":"y","type":"quantitative","scale":{"domain":[-2.5,12.8]},"axis":null}},"layer":[{"data":{"name":"d64"},"mark":{"type":"circle","opacity":1},"encoding":{"size":{"field":"n","type":"ordinal","scale":{"domain":[1,2],"range":[5,38]},"legend":null},"color":{"field":"n","type":"ordinal","scale":{"domain":[1,2],"range":["#28287a","#1c1cf0"]},"legend":null}}},{"data":{"name":"bands"},"mark":{"type":"rule","color":"#c56a6a","strokeWidth":1.1},"encoding":{"x2":{"field":"x2"},"y2":{"field":"y2"}}}]},
{"width":104,"height":69,"view":{"stroke":"#808080"},"encoding":{"x":{"field":"x","type":"quantitative","scale":{"domain":[-2.4,12.9]},"axis":{"orient":"bottom","title":null,"offset":2,"values":[-2,0,2,4,6,8,10,12]}},"y":{"field":"y","type":"quantitative","scale":{"domain":[-2.5,12.8]},"axis":null}},"layer":[{"data":{"name":"d65"},"mark":{"type":"circle","opacity":1},"encoding":{"size":{"field":"n","type":"ordinal","scale":{"domain":[1,2],"range":[5,38]},"legend":null},"color":{"field":"n","type":"ordinal","scale":{"domain":[1,2],"range":["#28287a","#1c1cf0"]},"legend":null}}},{"data":{"name":"bands"},"mark":{"type":"rule","color":"#c56a6a","strokeWidth":1.1},"encoding":{"x2":{"field":"x2"},"y2":{"field":"y2"}}}]},
{"width":104,"height":69,"view":{"stroke":"#808080"},"data":{"name":"cells"},"transform":[{"filter":"datum.p=='66'"}],"mark":{"type":"text","style":"nm"},"encoding":{"text":{"field":"label"}}}
]},
{"bounds":"flush","spacing":11,"hconcat":[
{"width":45,"height":1,"data":{"values":[{"a":1}]},"mark":{"type":"point","opacity":0},"encoding":{}},
{"title":{"text":"B","fontSize":47,"anchor":"start","frame":"group","dx":-143,"offset":-33},"width":522,"height":384,"data":{"name":"heat"},"mark":{"type":"rect"},"encoding":{"x":{"field":"c","type":"nominal","sort":["CRYO1","CRYO2","FFPE1","FFPE2","TFPE1","TFPE2"],"scale":{"paddingInner":0,"paddingOuter":0},"axis":{"orient":"top","title":null,"labelAngle":0,"labelFontSize":17,"labelColor":"#222","labelPadding":26,"labelOffset":-5,"tickSize":3,"tickColor":"#666","domainColor":"#666"}},"y":{"field":"r","type":"nominal","sort":["CRYO1","CRYO2","FFPE1","FFPE2","TFPE1","TFPE2"],"scale":{"paddingInner":0,"paddingOuter":0},"axis":{"title":null,"labelFontSize":17,"labelColor":"#222","labelAlign":"left","labelPadding":110,"labelOffset":-4,"tickSize":0,"domain":false}},"color":{"field":"v","type":"quantitative","scale":{"domain":[0.6,0.8,1],"range":["#00ff00","#0000ff","#ff0000"],"interpolate":"rgb"},"legend":null}}},
{"width":23,"height":384,"data":{"name":"scale"},"mark":{"type":"rect"},"encoding":{"y":{"field":"lo","type":"quantitative","scale":{"domain":[0.5875,1.0125]},"axis":{"orient":"right","title":null,"values":[0.6,0.645,0.689,0.733,0.778,0.822,0.867,0.911,0.956,1],"labelExpr":"replace(format(datum.value,'.3~f'),'.',',')","labelFontSize":17,"labelColor":"#222","labelPadding":20,"tickSize":3,"tickColor":"#666","domain":false}},"y2":{"field":"hi"},"color":{"field":"v","type":"quantitative","scale":{"domain":[0.6,0.8,1],"range":["#00ff00","#0000ff","#ff0000"],"interpolate":"rgb"},"legend":null}}}
]}
]},
{"spacing":0,"resolve":{"legend":{"color":"independent"},"scale":{"color":"independent"}},"vconcat":[
{"bounds":"flush","columns":2,"spacing":{"row":4,"column":11},"resolve":{"legend":{"color":"independent"},"scale":{"color":"independent"}},"concat":[
{"width":1,"height":1,"data":{"values":[{"a":1}]},"mark":{"type":"point","opacity":0},"encoding":{}},
{"width":400,"height":1,"data":{"values":[{"a":1}]},"mark":{"type":"point","opacity":0},"encoding":{}},
{"width":1,"height":1,"data":{"values":[{"a":1}]},"mark":{"type":"point","opacity":0},"encoding":{}},
{"title":{"text":"C","fontSize":47,"anchor":"start","frame":"group","dx":-39,"offset":56},"width":400,"height":246,"view":{"stroke":"#b3b3b3"},"data":{"name":"b1"},"mark":{"type":"bar","stroke":"#333","strokeWidth":0.8,"width":13.6},"encoding":{"x":{"field":"g","type":"nominal","sort":["GAPDH","B2M","CD14","AFP","IL7","TNFRSF19"],"scale":{"paddingInner":0,"paddingOuter":0},"axis":{"title":null,"labelAngle":0,"tickBand":"extent","tickSize":11,"tickColor":"#b3b3b3","tickWidth":1.2,"domainColor":"#b3b3b3","domainWidth":1.2,"labelFontSize":15.5,"labelColor":"#444","labelPadding":8,"labelOverlap":false}},"xOffset":{"field":"s","type":"nominal","sort":["CRYO1 PCR","CRYO2 PCR","CRYO1 MA","CRYO2 MA"],"scale":{"range":[10.8,65.1],"paddingInner":0.001,"paddingOuter":0.001}},"y":{"field":"v","type":"quantitative","scale":{"domain":[0,4.5]},"axis":{"title":"rel. ratio","titleFontSize":23,"titleFontWeight":"normal","titleColor":"#333","titleX":-53,"titleY":137,"values":[0,0.5,1,1.5,2,2.5,3,3.5,4,4.5],"labelExpr":"replace(''+datum.value,'.',',')","grid":true,"gridColor":"#b3b3b3","gridWidth":1.2,"tickSize":11,"tickColor":"#b3b3b3","tickWidth":1.2,"domainColor":"#b3b3b3","domainWidth":1.2,"labelFontSize":16,"labelColor":"#333","labelPadding":6}},"color":{"field":"s","type":"nominal","scale":{"domain":["CRYO1 PCR","CRYO2 PCR","CRYO1 MA","CRYO2 MA"],"range":["#004586","#ff420e","#ffd320","#579d1c"]},"legend":{"orient":"none","legendX":-37,"legendY":293,"direction":"horizontal","columns":4,"gridAlign":"each","title":null,"symbolType":"square","symbolSize":150,"symbolStrokeColor":"#333","symbolStrokeWidth":0.8,"labelFontSize":15,"labelColor":"#444","columnPadding":11,"labelOffset":4}}}}
]},
{"width":1,"height":26,"data":{"values":[{"a":1}]},"mark":{"type":"point","opacity":0},"encoding":{}},
{"width":412,"height":246,"view":{"stroke":"#b3b3b3"},"data":{"name":"b2"},"mark":{"type":"bar","stroke":"#333","strokeWidth":0.8,"width":13.8,"xOffset":-3},"encoding":{"x":{"field":"g","type":"nominal","sort":["GAPDH","B2M","CD14","AFP","IL7","TNFRSF19"],"scale":{"paddingInner":0,"paddingOuter":0},"axis":{"title":null,"labelAngle":0,"tickBand":"extent","tickSize":11,"tickColor":"#b3b3b3","tickWidth":1.2,"domainColor":"#b3b3b3","domainWidth":1.2,"labelFontSize":15.5,"labelColor":"#444","labelPadding":8,"labelOverlap":false}},"xOffset":{"field":"s","type":"nominal","sort":["FFPE1 PCR","FFPE2 PCR","FFPE1 MA","FFPE2 MA"],"scale":{"range":[7.9,63.2],"paddingInner":0.001,"paddingOuter":0.001}},"y":{"field":"v","type":"quantitative","scale":{"domain":[0,6]},"axis":{"title":"rel. ratio","titleFontSize":23,"titleFontWeight":"normal","titleColor":"#333","titleX":-41,"titleY":137,"values":[0,1,2,3,4,5,6],"grid":true,"gridColor":"#b3b3b3","gridWidth":1.2,"tickSize":11,"tickColor":"#b3b3b3","tickWidth":1.2,"domainColor":"#b3b3b3","domainWidth":1.2,"labelFontSize":16,"labelColor":"#333","labelPadding":6}},"color":{"field":"s","type":"nominal","scale":{"domain":["FFPE1 PCR","FFPE2 PCR","FFPE1 MA","FFPE2 MA"],"range":["#004586","#ff420e","#ffd320","#579d1c"]},"legend":{"orient":"none","legendX":-28,"legendY":294,"direction":"horizontal","columns":4,"gridAlign":"each","title":null,"symbolType":"square","symbolSize":150,"symbolStrokeColor":"#333","symbolStrokeWidth":0.8,"labelFontSize":15,"labelColor":"#444","columnPadding":11,"labelOffset":4}}}},
{"width":1,"height":47,"data":{"values":[{"a":1}]},"mark":{"type":"point","opacity":0},"encoding":{}},
{"bounds":"flush","spacing":11,"resolve":{"legend":{"color":"independent"},"scale":{"color":"independent"}},"hconcat":[
{"width":1,"height":1,"data":{"values":[{"a":1}]},"mark":{"type":"point","opacity":0},"encoding":{}},
{"width":400,"height":246,"view":{"stroke":"#b3b3b3"},"data":{"name":"b3"},"mark":{"type":"bar","stroke":"#333","strokeWidth":0.8,"width":13.6,"xOffset":-9},"encoding":{"x":{"field":"g","type":"nominal","sort":["GAPDH","B2M","CD14","AFP","IL7","TNFRSF19"],"scale":{"paddingInner":0,"paddingOuter":0},"axis":{"title":null,"labelAngle":0,"tickBand":"extent","tickSize":11,"tickColor":"#b3b3b3","tickWidth":1.2,"domainColor":"#b3b3b3","domainWidth":1.2,"labelFontSize":15.5,"labelColor":"#444","labelPadding":8,"labelOverlap":false}},"xOffset":{"field":"s","type":"nominal","sort":["TFPE1 PCR","TFPE2 PCR","TFPE1 MA","TFPE2 MA"],"scale":{"range":[1.3,55.6],"paddingInner":0.001,"paddingOuter":0.001}},"y":{"field":"v","type":"quantitative","scale":{"domain":[0,3]},"axis":{"title":"rel. ratio","titleFontSize":23,"titleFontWeight":"normal","titleColor":"#333","titleX":-53,"titleY":136,"values":[0,0.5,1,1.5,2,2.5,3],"labelExpr":"replace(''+datum.value,'.',',')","grid":true,"gridColor":"#b3b3b3","gridWidth":1.2,"tickSize":11,"tickColor":"#b3b3b3","tickWidth":1.2,"domainColor":"#b3b3b3","domainWidth":1.2,"labelFontSize":16,"labelColor":"#333","labelPadding":6}},"color":{"field":"s","type":"nominal","scale":{"domain":["TFPE1 PCR","TFPE2 PCR","TFPE1 MA","TFPE2 MA"],"range":["#004586","#ff420e","#ffd320","#579d1c"]},"legend":{"orient":"none","legendX":-18,"legendY":293,"direction":"horizontal","columns":4,"gridAlign":"each","title":null,"symbolType":"square","symbolSize":150,"symbolStrokeColor":"#333","symbolStrokeWidth":0.8,"labelFontSize":15,"labelColor":"#444","columnPadding":11,"labelOffset":4}}}}
]}
]}
]}
